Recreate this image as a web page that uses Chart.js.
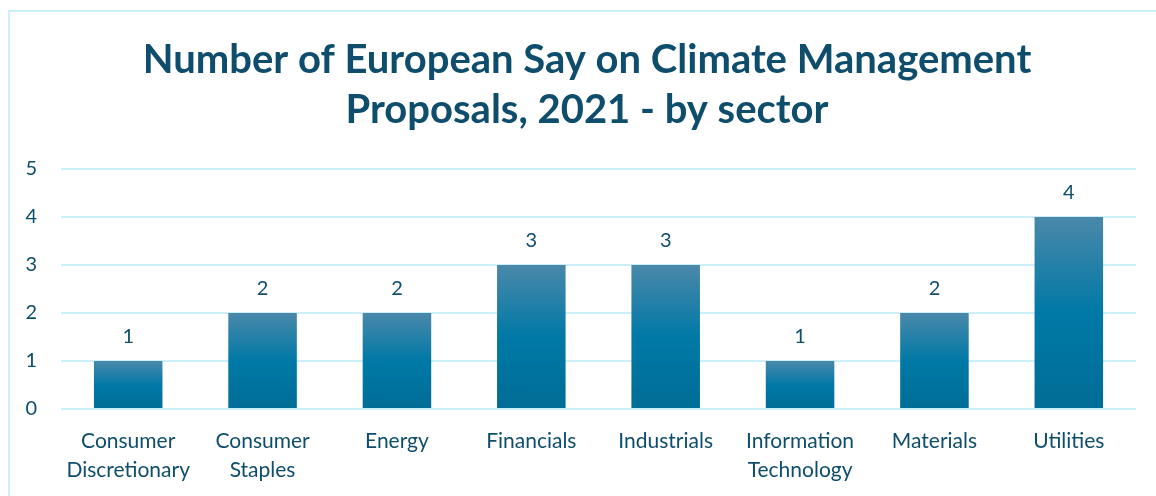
<!DOCTYPE html>
<html>
<head>
<meta charset="utf-8">
<script src="https://cdn.jsdelivr.net/npm/chart.js@4"></script>
<style>
  html, body { margin: 0; padding: 0; background: #fff; }
  #wrap { position: relative; width: 1156px; height: 496px; overflow: hidden; }
  #frame { position: absolute; left: 8px; top: 10px; width: 1200px; height: 520px;
           border: 2px solid #cdeefb; box-sizing: border-box; }
  canvas { position: absolute; left: 0; top: 0; }
</style>
</head>
<body>
<div id="wrap">
  <div id="frame"></div>
  <canvas id="t_a" width="1156" height="496"></canvas>
</div>
<script>
var sectors = [
  ["Consumer", "Discretionary"], ["Consumer", "Staples"], "Energy", "Financials",
  "Industrials", ["Information", "Technology"], "Materials", "Utilities"
];
var proposals = [1, 2, 2, 3, 3, 1, 2, 4];
var yTicks = [0, 1, 2, 3, 4, 5];

var ink = "#0e4d6c";
var a = document.getElementById("t_a");

// each bar gets its own top-to-bottom gradient
function barFill(ctx) {
  var chart = ctx.chart;
  if (!chart.chartArea || !chart.scales.y) return "#0079a6";
  var y = chart.scales.y;
  var top = y.getPixelForValue(ctx.raw);
  var bottom = y.getPixelForValue(0);
  var g = chart.ctx.createLinearGradient(0, top, 0, bottom);
  g.addColorStop(0, "#4a88aa");
  g.addColorStop(0.5, "#0079a6");
  g.addColorStop(1, "#006d96");
  return g;
}

// value labels above the bars
var valueLabels = {
  id: "valueLabels",
  afterDatasetsDraw: function (chart) {
    var c = chart.ctx;
    var meta = chart.getDatasetMeta(0);
    c.save();
    c.font = "20px Lato";
    c.fillStyle = ink;
    c.textAlign = "center";
    c.textBaseline = "middle";
    meta.data.forEach(function (bar, i) {
      c.fillText(proposals[i], bar.x, bar.y - 24);
    });
    c.restore();
  }
};

var A = new Chart(a, {
  type: "bar",
  data: {
    labels: sectors,
    datasets: [{
      data: proposals,
      backgroundColor: barFill,
      barPercentage: 0.51,
      categoryPercentage: 1
    }]
  },
  options: {
    responsive: false,
    animation: false,
    layout: { padding: { left: 20, right: 2, top: 35, bottom: 0 } },
    plugins: {
      legend: { display: false },
      tooltip: { enabled: false },
      title: {
        display: true,
        text: ["Number of European Say on Climate Management", "Proposals, 2021 - by sector"],
        color: ink,
        font: { family: "Lato", size: 40, weight: "bold", lineHeight: 1.25 },
        padding: { top: 0, bottom: 34 }
      }
    },
    scales: {
      x: {
        grid: { display: false },
        border: { display: false },
        afterFit: function (s) { s.height = 87; },
        ticks: { color: ink, font: { family: "Lato", size: 21, lineHeight: 1.38 }, maxRotation: 0, padding: 10 }
      },
      y: {
        min: 0,
        max: 5,
        afterBuildTicks: function (s) { s.ticks = yTicks.map(function (v) { return { value: v }; }); },
        afterFit: function (s) { s.width = 41; },
        grid: { color: "#cdeefb", lineWidth: 2, drawTicks: false },
        border: { display: false },
        ticks: { color: ink, font: { family: "Lato", size: 20 }, padding: 24 }
      },
      // empty margin on the right so the title sits over the plot
      yRight: {
        position: "right",
        min: 0,
        max: 5,
        grid: { display: false },
        border: { display: false },
        ticks: { display: false },
        afterFit: function (s) { s.width = 18; }
      }
    }
  },
  plugins: [valueLabels]
});
</script>
</body>
</html>
